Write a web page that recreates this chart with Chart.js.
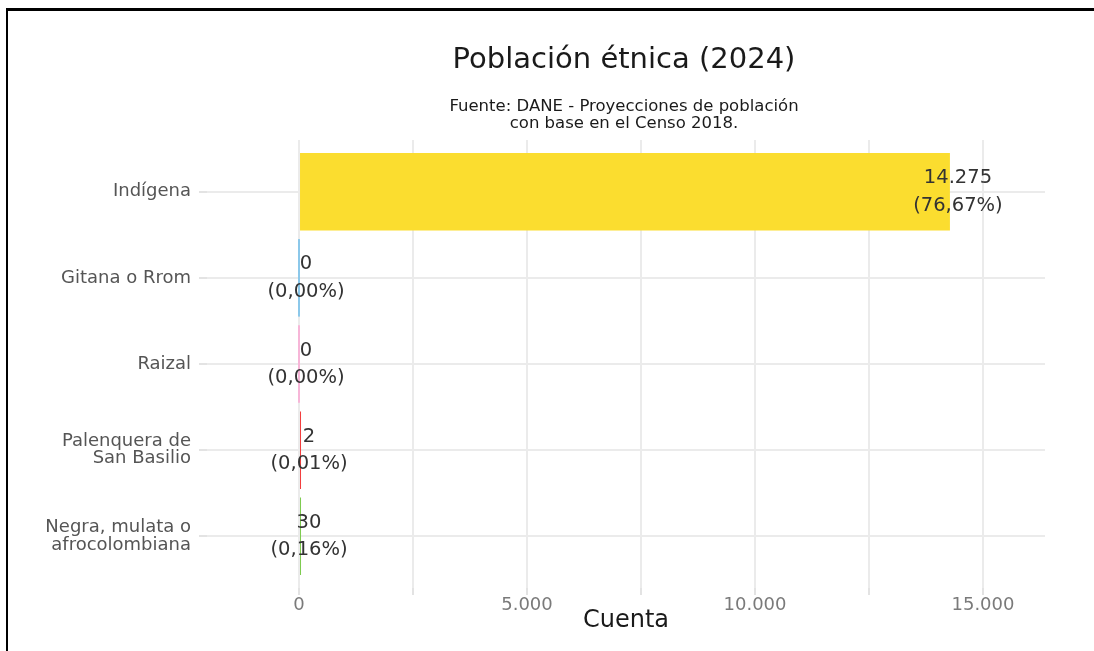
<!DOCTYPE html>
<html>
<head>
<meta charset="utf-8">
<script src="https://cdn.jsdelivr.net/npm/chart.js@4/dist/chart.umd.min.js"></script>
<style>
    body { margin: 0; background: #fff; overflow: hidden; }
    #wrap { position: relative; width: 1094px; height: 651px; }
    #frame { position: absolute; left: 6px; top: 8px; width: 1200px; height: 800px;
             border-top: 3px solid #000; border-left: 2px solid #000; }
    canvas { position: absolute; left: 0; top: 0; }
</style>
</head>
<body>
<div id="wrap">
    <canvas id="etniaChart" width="1094" height="651"></canvas>
    <div id="frame"></div>
</div>
<script>
// datos
const categorias = ['Indígena', 'Gitana o Rrom', 'Raizal', ['Palenquera de', 'San Basilio'], ['Negra, mulata o', 'afrocolombiana']];
const cuentas = [14275, 0, 0, 2, 30];
const porcentajes = [76.67, 0.00, 0.00, 0.01, 0.16];
const colores = ['#FBDD2F', '#8CC8EA', '#F7B6D8', '#F23B3B', '#7CCB4E'];
const xTicks = [0, 2500, 5000, 7500, 10000, 12500, 15000];
const xEtiquetas = [0, 5000, 10000, 15000];

const titulo = 'Población étnica (2024)';
const subtitulo = ['Fuente: DANE - Proyecciones de población', 'con base en el Censo 2018.'];

const FONT = "'DejaVu Sans', Verdana, sans-serif";

function miles(n) {
    return String(n).replace(/\B(?=(\d{3})+(?!\d))/g, '.');
}

function pct(p) {
    return '(' + p.toFixed(2).replace('.', ',') + '%)';
}

// título y subtítulo centrados sobre el panel (como ggplot)
const tituloPlugin = {
    id: 'tituloPanel',
    afterDraw(chart) {
        const { ctx, chartArea } = chart;
        const cx = (chartArea.left + chartArea.right) / 2 - 2;
        ctx.save();
        ctx.textAlign = 'center';
        ctx.textBaseline = 'middle';
        ctx.fillStyle = '#1a1a1a';
        ctx.font = '29px ' + FONT;
        ctx.fillText(titulo, cx, 60);
        ctx.font = '16.5px ' + FONT;
        subtitulo.forEach((t, i) => ctx.fillText(t, cx, 107 + i * 17));
        ctx.restore();
    }
};

// etiquetas de valor y porcentaje al final de cada barra
const etiquetasPlugin = {
    id: 'etiquetas',
    afterDatasetsDraw(chart) {
        const { ctx } = chart;
        const meta = chart.getDatasetMeta(0);
        ctx.save();
        ctx.textAlign = 'center';
        ctx.textBaseline = 'middle';
        ctx.fillStyle = '#333333';
        ctx.font = '19.5px ' + FONT;
        meta.data.forEach((bar, i) => {
            ctx.fillText(miles(cuentas[i]), bar.x + 8, bar.y - 13.5);
            ctx.fillText(pct(porcentajes[i]), bar.x + 8, bar.y + 14);
        });
        ctx.restore();
    }
};

const ctx = document.getElementById('etniaChart').getContext('2d');
new Chart(ctx, {
    type: 'bar',
    data: {
        datasets: [{
            data: cuentas.map((v, i) => ({ x: v, y: i })),
            backgroundColor: colores,
            borderWidth: 0,
            minBarLength: 2,
            barPercentage: 0.9,
            categoryPercentage: 1.0
        }]
    },
    options: {
        indexAxis: 'y',
        responsive: false,
        animation: false,
        layout: { padding: { top: 140, right: 49, bottom: 0, left: 0 } },
        plugins: {
            legend: { display: false },
            tooltip: { enabled: false }
        },
        scales: {
            x: {
                type: 'linear',
                min: -2018,
                max: 16360,
                afterBuildTicks: scale => { scale.ticks = xTicks.map(v => ({ value: v })); },
                afterFit: scale => { scale.height = 63; },
                grid: { color: '#EBEBEB', lineWidth: 2, tickLength: 7, tickColor: '#E3E3E3' },
                border: { display: false },
                ticks: {
                    padding: 0,
                    color: '#7a7a7a',
                    font: { family: FONT, size: 18 },
                    callback: v => xEtiquetas.includes(v) ? miles(v) : ''
                },
                title: {
                    display: true,
                    text: 'Cuenta',
                    color: '#1a1a1a',
                    font: { family: FONT, size: 24 },
                    padding: { top: 0, bottom: 16 }
                }
            },
            y: {
                type: 'linear',
                reverse: true,
                offset: false,
                min: -0.6,
                max: 4.6,
                afterBuildTicks: scale => { scale.ticks = categorias.map((c, i) => ({ value: i })); },
                afterFit: scale => { scale.width = 207; },
                grid: { color: '#EBEBEB', lineWidth: 2, tickLength: 8, tickColor: '#E3E3E3', offset: false },
                border: { display: false },
                ticks: {
                    padding: 8,
                    color: '#555555',
                    font: { family: FONT, size: 18, lineHeight: 0.95 },
                    callback: v => categorias[v]
                }
            }
        }
    },
    plugins: [tituloPlugin, etiquetasPlugin]
});
</script>
</body>
</html>
